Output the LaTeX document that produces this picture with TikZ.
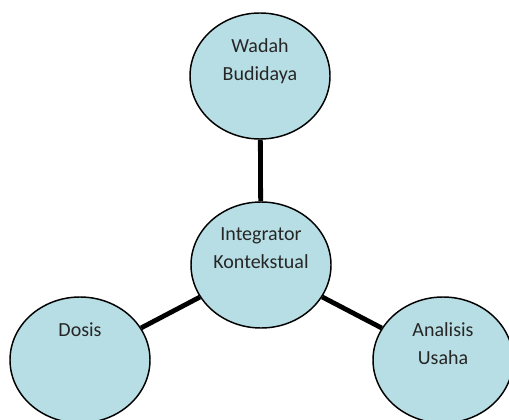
\documentclass[tikz,border=0pt]{standalone}
\usepackage{fontspec}
\setmainfont{Carlito}
\usetikzlibrary{shapes.geometric}
\definecolor{bubblefill}{RGB}{183,222,228}
\tikzset{
  bubble/.style={ellipse,draw=black,line width=1.1pt,fill=bubblefill,
    minimum width=105pt,minimum height=94.5pt,inner sep=0pt},
  tag/.style={anchor=north,align=center,inner sep=0pt,text=black!85,
    font=\fontsize{15}{21}\selectfont},
  link/.style={line width=3.6pt,black},
}
\begin{document}
\begin{tikzpicture}[x=0.75pt,y=-0.75pt]
  \useasboundingbox (0,0) rectangle (509,420);
  \node (wadah) at (260,76) [bubble] {};
  \node (hub) at (261,265) [bubble] {};
  \node (dosis) at (80,360) [bubble] {};
  \node (analisis) at (443,360) [bubble] {};
  \node (wadahtext) at ([yshift=28.5pt]wadah.center) [tag] {Wadah\\Budidaya};
  \node (hubtext) at ([yshift=28.5pt]hub.center) [tag] {Integrator\\Kontekstual};
  \node (dosistext) at ([yshift=28.5pt]dosis.center) [tag] {Dosis};
  \node (analisistext) at ([yshift=28.5pt]analisis.center) [tag] {Analisis\\Usaha};
  \draw[link] (hub) -- (wadah);
  \draw[link] (hub) -- (dosis);
  \draw[link] (hub) -- (analisis);
\end{tikzpicture}
\end{document}
